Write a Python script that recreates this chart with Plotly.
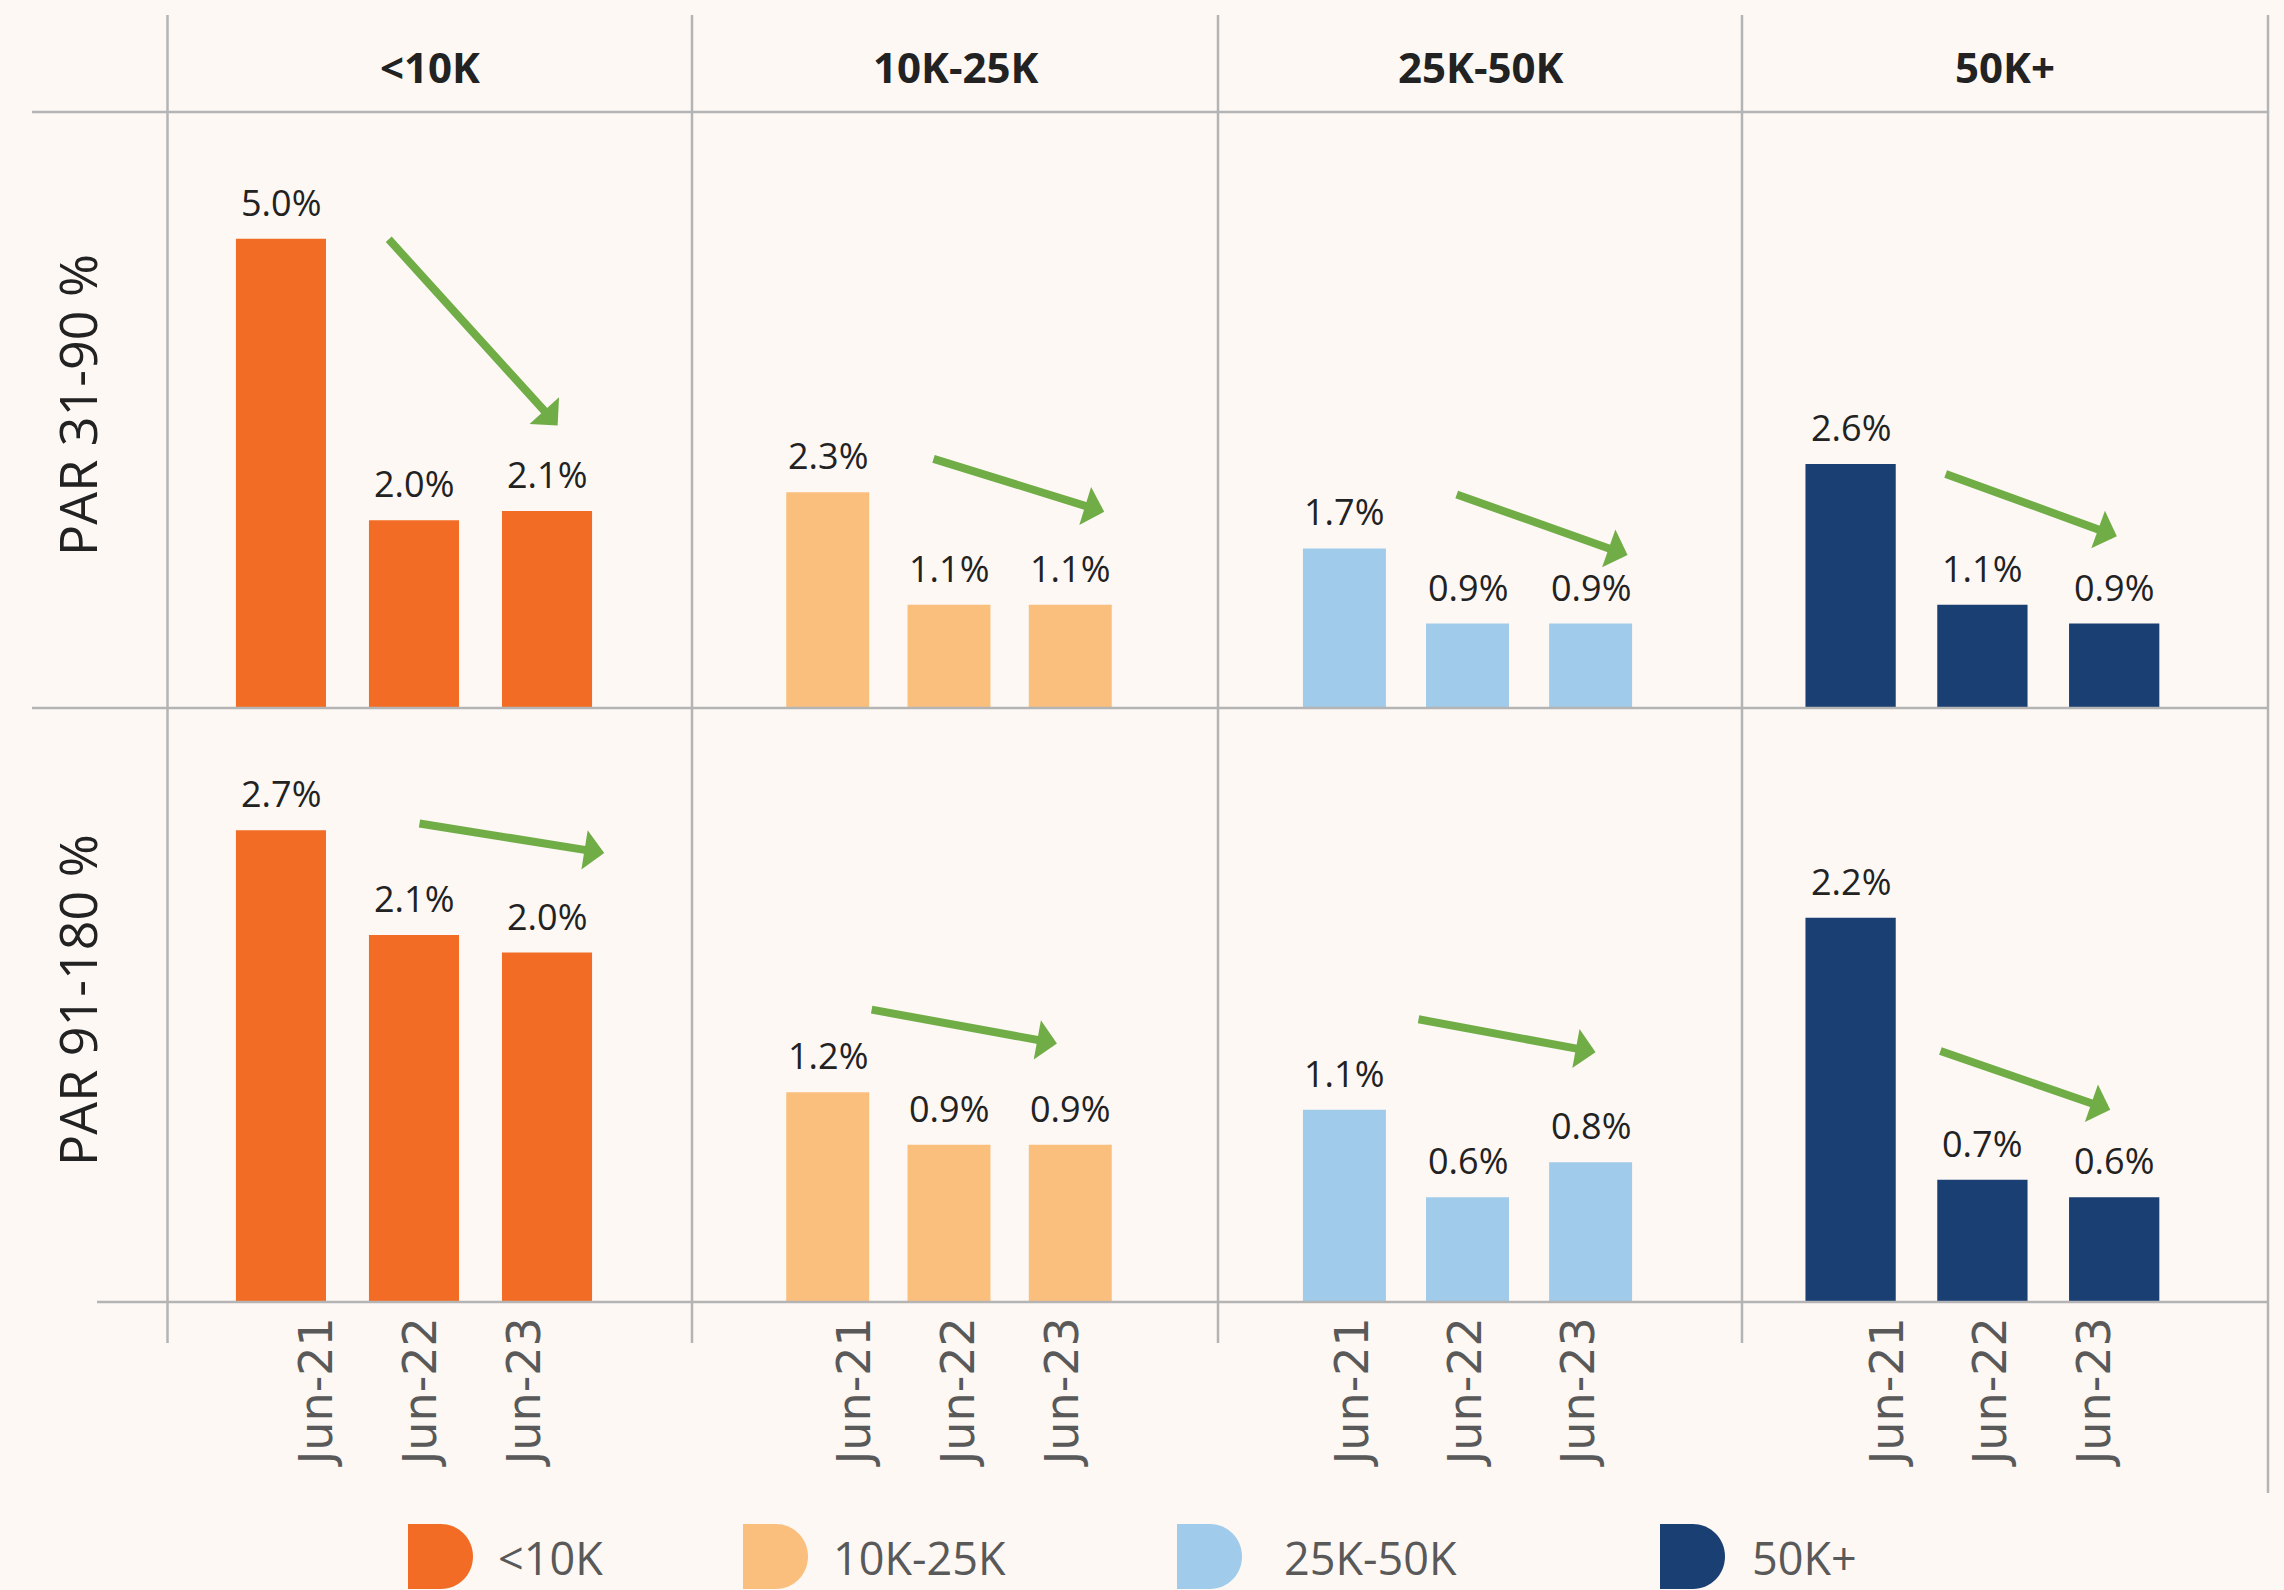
import plotly.graph_objects as go

# ---- data ---------------------------------------------------------------
periods = ["Jun-21", "Jun-22", "Jun-23"]
segments = ["<10K", "10K-25K", "25K-50K", "50K+"]
metrics = ["PAR 31-90 %", "PAR 91-180 %"]

par31_90 = [
    [5.0, 2.0, 2.1],   # <10K
    [2.3, 1.1, 1.1],   # 10K-25K
    [1.7, 0.9, 0.9],   # 25K-50K
    [2.6, 1.1, 0.9],   # 50K+
]
par91_180 = [
    [2.7, 2.1, 2.0],
    [1.2, 0.9, 0.9],
    [1.1, 0.6, 0.8],
    [2.2, 0.7, 0.6],
]

# trend arrows per panel: (tail x, tail y) -> (head x, head y) in axis units
trend_31_90 = [
    ((0.80, 5.01), (2.08, 3.01)),
    ((0.86, 2.66), (2.28, 2.09)),
    ((0.90, 2.28), (2.30, 1.63)),
    ((0.71, 2.50), (2.02, 1.83)),
]
trend_91_180 = [
    ((1.03, 2.74), (2.43, 2.57)),
    ((0.35, 1.675), (1.89, 1.48)),
    ((0.59, 1.62), (2.04, 1.43)),
    ((0.67, 1.44), (1.97, 1.10)),
]

# ---- styling ------------------------------------------------------------
W, H = 2284, 1590
BG = "#FDF8F4"
GRID = "#B4B4B4"
GREEN = "#70AD47"
TEXT = "#222222"
GREY_TEXT = "#595959"
colors = ["#F26C25", "#FBBF7D", "#A0CBEA", "#1A3F73"]

# column edges and row edges in pixels
col_edges = [167.5, 692, 1218, 1742, 2268]
row_top, row_mid, row_bottom = 112, 708, 1302
y_ranges = [6.35, 3.40]
# per-column category ranges and bar widths
x_ranges = [(-0.853, 3.090), (-1.119, 3.218), (-1.027, 3.230), (-0.824, 3.167)]
bar_widths = [0.677, 0.684, 0.674, 0.685]
# period labels sit on their own evenly spaced axis under each column
label_ranges = [(-1.446, 3.610), (-1.567, 3.490), (-1.195, 3.442), (-1.411, 3.671)]


def px(x):
    return x / W


def py(y):
    return 1 - y / H


fig = go.Figure()
layout = dict(
    width=W, height=H,
    margin=dict(l=0, r=0, t=0, b=0),
    paper_bgcolor=BG, plot_bgcolor="rgba(0,0,0,0)",
    showlegend=False,
    font=dict(family="Open Sans", color=TEXT),
)
annotations = []
shapes = []

rows = [par31_90, par91_180]
trends = [trend_31_90, trend_91_180]
row_domains = [[py(row_mid), py(row_top)], [py(row_bottom), py(row_mid)]]

for r, values in enumerate(rows):
    for c, seg in enumerate(segments):
        n = r * 4 + c + 1
        xa = "x" if n == 1 else f"x{n}"
        ya = "y" if n == 1 else f"y{n}"
        key = "" if n == 1 else str(n)
        layout[f"xaxis{key}"] = dict(
            domain=[px(col_edges[c]), px(col_edges[c + 1])],
            range=list(x_ranges[c]), type="category",
            anchor=ya, showgrid=False, zeroline=False, showline=False,
            ticks="", showticklabels=False, fixedrange=True,
        )
        layout[f"yaxis{key}"] = dict(
            domain=row_domains[r], range=[0, y_ranges[r]],
            anchor=xa, visible=False, fixedrange=True,
        )
        fig.add_trace(go.Bar(
            x=periods, y=values[c], xaxis=xa, yaxis=ya,
            marker=dict(color=colors[c], line=dict(width=0)),
            width=bar_widths[c], hoverinfo="x+y", name=seg,
        ))
        for p, v in zip(periods, values[c]):
            annotations.append(dict(
                x=p, y=v, xref=xa, yref=ya, text=f"{v:.1f}%",
                showarrow=False, yanchor="bottom", yshift=10,
                font=dict(family="Open Sans", size=36, color=TEXT),
            ))
        (tx, ty), (hx, hy) = trends[r][c]
        annotations.append(dict(
            x=hx, y=hy, ax=tx, ay=ty, xref=xa, yref=ya, axref=xa, ayref=ya,
            text="", showarrow=True, arrowhead=1, arrowsize=0.83,
            arrowwidth=8, arrowcolor=GREEN, standoff=0,
        ))

# period tick labels under the bottom row, on an evenly spaced label axis
for c in range(4):
    n = 9 + c
    bottom_y = f"y{5 + c}"
    layout[f"xaxis{n}"] = dict(
        domain=[px(col_edges[c]), px(col_edges[c + 1])],
        range=list(label_ranges[c]), anchor=bottom_y,
        tickmode="array", tickvals=list(range(len(periods))), ticktext=periods,
        showgrid=False, zeroline=False, showline=False, ticks="",
        tickangle=-90, ticklabelstandoff=5,
        tickfont=dict(family="DejaVu Sans", size=46, color=GREY_TEXT),
        fixedrange=True,
    )
    fig.add_trace(go.Scatter(
        x=list(range(len(periods))), y=[0] * len(periods),
        xaxis=f"x{n}", yaxis=bottom_y, mode="markers",
        marker=dict(opacity=0), hoverinfo="skip", showlegend=False,
    ))

# column headers
for c, seg in enumerate(segments):
    annotations.append(dict(
        x=px((col_edges[c] + col_edges[c + 1]) / 2), y=py(67),
        xref="paper", yref="paper", text=f"<b>{seg}</b>", showarrow=False,
        font=dict(family="Open Sans", size=42, color=TEXT),
        xanchor="center", yanchor="middle",
    ))

# row titles
for r, (label, yc) in enumerate(zip(metrics, [405, 1000])):
    annotations.append(dict(
        x=px(76), y=py(yc), xref="paper", yref="paper", text=label,
        showarrow=False, textangle=-90,
        font=dict(family="Open Sans", size=52, color=TEXT),
        xanchor="center", yanchor="middle",
    ))


# table rules
def hline(y, x0, x1):
    shapes.append(dict(type="line", xref="paper", yref="paper",
                       x0=px(x0), x1=px(x1), y0=py(y), y1=py(y),
                       line=dict(color=GRID, width=2.5)))


def vline(x, y0, y1):
    shapes.append(dict(type="line", xref="paper", yref="paper",
                       x0=px(x), x1=px(x), y0=py(y0), y1=py(y1),
                       line=dict(color=GRID, width=2.5)))


hline(row_top, 32, col_edges[-1])
hline(row_mid, 32, col_edges[-1])
hline(row_bottom, 97, col_edges[-1])
for x in col_edges[:-1]:
    vline(x, 15, 1343)
vline(col_edges[-1], 15, 1493)

# legend with rounded swatches
swatch_left = [408, 743, 1177, 1660]
label_left = [496, 831, 1282, 1750]
sw_top, sw_bot = 1524, 1589
sw_flat, sw_r = 33, 32
k = 0.5523
for c, seg in enumerate(segments):
    x0 = swatch_left[c]
    xf = x0 + sw_flat
    yc = (sw_top + sw_bot) / 2
    ry = (sw_bot - sw_top) / 2
    pts = [
        f"M{px(x0)},{py(sw_top)}",
        f"L{px(xf)},{py(sw_top)}",
        f"C{px(xf + k * sw_r)},{py(sw_top)} {px(xf + sw_r)},{py(yc - k * ry)} {px(xf + sw_r)},{py(yc)}",
        f"C{px(xf + sw_r)},{py(yc + k * ry)} {px(xf + k * sw_r)},{py(sw_bot)} {px(xf)},{py(sw_bot)}",
        f"L{px(x0)},{py(sw_bot)}",
        "Z",
    ]
    shapes.append(dict(type="path", xref="paper", yref="paper", path=" ".join(pts),
                       fillcolor=colors[c], line=dict(width=0)))
    annotations.append(dict(
        x=px(label_left[c]), y=py(1557), xref="paper", yref="paper", text=seg,
        showarrow=False, xanchor="left", yanchor="middle",
        font=dict(family="Open Sans", size=45, color=GREY_TEXT),
    ))

layout["annotations"] = annotations
layout["shapes"] = shapes
fig.update_layout(**layout)

fig.write_html("out.html")
